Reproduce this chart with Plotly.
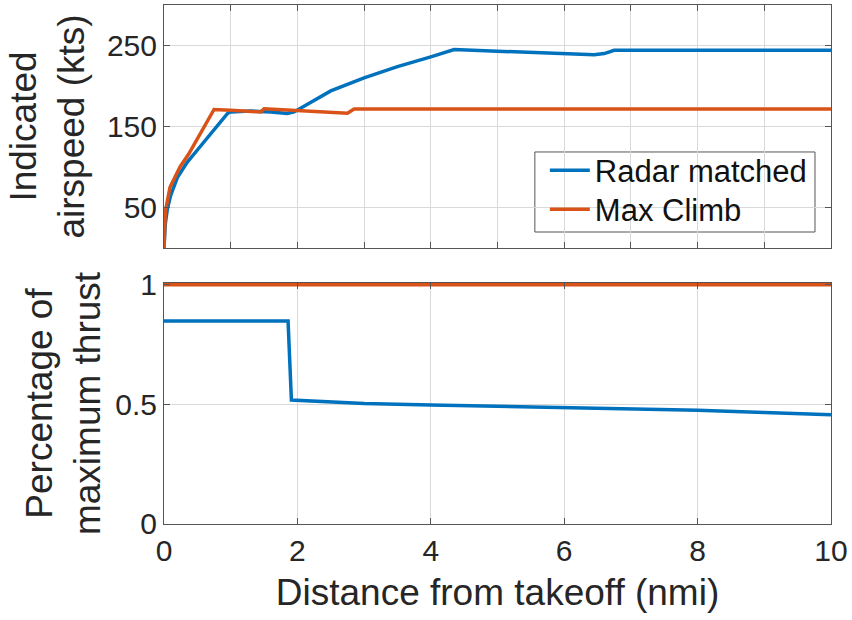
import plotly.graph_objects as go

# Indicated airspeed (kts) vs distance from takeoff (nmi)
radar_dist = [0, 0.02, 0.05, 0.1, 0.2, 0.35, 0.5, 0.65, 0.8, 0.95, 1.0, 1.3, 1.6,
              1.85, 1.95, 2.2, 2.5, 3.0, 3.5, 4.0, 4.35, 5.0, 5.5, 6.0, 6.45, 6.6,
              6.75, 8.0, 10.0]
radar_speed = [0, 30, 48, 65, 87, 106, 121, 136, 150, 166, 168, 169, 168,
               166, 168, 180, 194, 210, 224, 236, 245, 243, 241.5, 240, 238.5, 240,
               244, 244, 244]

climb_dist = [0, 0.02, 0.09, 0.24, 0.37, 0.52, 0.75, 1.0, 1.45, 1.5, 2.0, 2.75,
              2.85, 10.0]
climb_speed = [0, 45, 75, 100, 116, 137, 171, 170, 168, 172, 170, 166.5,
               171.5, 171.5]

# Fraction of maximum thrust
radar_thrust_dist = [0, 1.86, 1.91, 2.5, 3, 4, 5, 6, 7, 8, 9, 10]
radar_thrust = [0.848, 0.848, 0.518, 0.508, 0.503, 0.497, 0.492, 0.487, 0.481,
                0.475, 0.466, 0.456]
climb_thrust_dist = [0, 10]
climb_thrust = [1, 1]

speed_ticks = [50, 150, 250]
thrust_ticks = [0, 0.5, 1]
thrust_tick_text = ["0", "0.5", "1"]
dist_ticks = [0, 2, 4, 6, 8, 10]

BLUE = "#0072BD"
ORANGE = "#D95319"
FONT = "Liberation Sans, Arial, sans-serif"
TXT = "#262626"
GRID = "#d9d9d9"
AXLINE = "#555555"
LW = 3.5

fig = go.Figure()
fig.add_trace(go.Scatter(x=radar_dist, y=radar_speed, mode="lines",
                         line=dict(color=BLUE, width=LW), name="Radar matched",
                         xaxis="x", yaxis="y", legend="legend"))
fig.add_trace(go.Scatter(x=climb_dist, y=climb_speed, mode="lines",
                         line=dict(color=ORANGE, width=LW), name="Max Climb",
                         xaxis="x", yaxis="y", legend="legend2"))
fig.add_trace(go.Scatter(x=radar_thrust_dist, y=radar_thrust, mode="lines",
                         line=dict(color=BLUE, width=LW), showlegend=False,
                         xaxis="x2", yaxis="y2"))
fig.add_trace(go.Scatter(x=climb_thrust_dist, y=climb_thrust, mode="lines",
                         line=dict(color=ORANGE, width=LW), showlegend=False,
                         xaxis="x2", yaxis="y2"))

common_axis = dict(showline=True, linecolor=AXLINE, linewidth=1, mirror="ticks",
                   ticks="inside", ticklen=6, tickcolor=AXLINE, automargin=False,
                   showgrid=True, gridcolor=GRID, gridwidth=1, zeroline=False,
                   tickfont=dict(family=FONT, size=30, color=TXT))

TITLE_FONT = dict(family=FONT, size=37, color=TXT)
LEGEND_FONT = dict(family=FONT, size=31, color="#111111")

# legend frame holding both entries
fig.add_shape(type="rect", xref="paper", yref="paper",
              x0=0.556, x1=0.976, y0=0.5626, y1=0.7168,
              line=dict(color="#555555", width=1), fillcolor="white",
              layer="between")

fig.update_layout(
    width=852, height=620,
    margin=dict(l=164, r=21, t=5, b=96, autoexpand=False),
    paper_bgcolor="white", plot_bgcolor="white",
    font=dict(family=FONT, color=TXT),
    xaxis=dict(domain=[0, 1], range=[0, 10], dtick=1, showticklabels=False,
               anchor="y", **common_axis),
    yaxis=dict(domain=[0.5318, 1], range=[0, 300], tickvals=speed_ticks,
               anchor="x",
               title=dict(text="Indicated<br>airspeed (kts)", font=TITLE_FONT,
                          standoff=10),
               **common_axis),
    xaxis2=dict(domain=[0, 1], range=[0, 10], tickvals=dist_ticks, anchor="y2",
                title=dict(text="Distance from takeoff (nmi)", font=TITLE_FONT,
                           standoff=13),
                **common_axis),
    # small headroom above 1 so the full-thrust line is not clipped
    yaxis2=dict(domain=[0, 0.4644], range=[0, 1.007], tickvals=thrust_ticks,
                ticktext=thrust_tick_text, anchor="x2",
                title=dict(text="Percentage of<br>maximum thrust", font=TITLE_FONT,
                           standoff=3),
                **common_axis),
    legend=dict(x=0.571, y=0.681, xanchor="left", yanchor="middle",
                bgcolor="rgba(0,0,0,0)", borderwidth=0, font=LEGEND_FONT,
                itemwidth=40),
    legend2=dict(x=0.571, y=0.606, xanchor="left", yanchor="middle",
                 bgcolor="rgba(0,0,0,0)", borderwidth=0, font=LEGEND_FONT,
                 itemwidth=40),
    showlegend=True,
)

fig.write_html("out.html")
